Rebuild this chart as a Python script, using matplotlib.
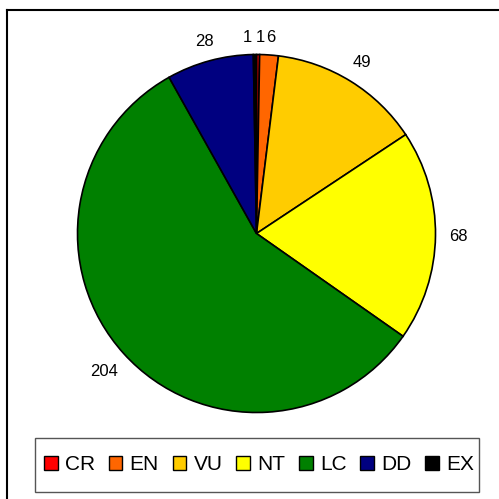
import numpy as np
import matplotlib
matplotlib.use("Agg")
import matplotlib.pyplot as plt
from matplotlib.patches import Patch, Rectangle
from matplotlib.lines import Line2D

categories = ["CR", "EN", "VU", "NT", "LC", "DD", "EX"]
values = [1, 6, 49, 68, 204, 28, 1]
colors = ["#FF0000", "#FF6600", "#FFCC00", "#FFFF00", "#008000", "#000080", "#000000"]

plt.rcParams['font.family'] = ['Liberation Sans', 'DejaVu Sans']

W = H = 499
fig = plt.figure(figsize=(W/100, H/100), dpi=100)

# outer border (left and top visible; right/bottom run off the image)
fig.lines.append(Line2D([7/W, 7/W], [0, 1 - 10/H], transform=fig.transFigure,
                        color="black", linewidth=1.5))
fig.lines.append(Line2D([7/W, 1], [1 - 10/H, 1 - 10/H], transform=fig.transFigure,
                        color="black", linewidth=1.5))

cx, cy, r = 256.5, 233.5, 179
ax = fig.add_axes([(cx - r)/W, 1 - (cy + r)/H, 2*r/W, 2*r/H])
wedges, _ = ax.pie(values, colors=colors, startangle=90, counterclock=False,
                   wedgeprops=dict(edgecolor="black", linewidth=1.2))
ax.set_aspect("equal")
ax.set_xlim(-1, 1)
ax.set_ylim(-1, 1)

# data labels placed just outside each wedge, offset by the text extent
fs = 12
px = 1.0 / r  # one pixel in data units
total = sum(values)
for w, v in zip(wedges, values):
    ang = np.deg2rad((w.theta1 + w.theta2) / 2)
    c, s = np.cos(ang), np.sin(ang)
    tw = len(str(v)) * 9.3 / 2
    th = 4
    d = 1.075 + (abs(c) * tw + abs(s) * th) * px
    x, y = d * c, d * s
    if v / total < 0.01:  # keep the tiny-slice labels from sitting on top of each other
        x += (np.sign(c) * 4.5 - 2.5) * px
    ax.text(x, y, str(v), ha="center", va="center", fontsize=fs)

# legend frame
fig.patches.append(Rectangle((35/W, 1 - 492/H), 444/W, 54/H, transform=fig.transFigure,
                             fill=False, edgecolor="#555555", linewidth=1.0))
handles = [Patch(facecolor=c, edgecolor="black", linewidth=1.0) for c in colors]
leg = fig.legend(handles, categories, loc="center", ncol=7,
                 bbox_to_anchor=(44/W, 1 - 485/H, 430/W, 40/H), mode="expand",
                 fontsize=15, frameon=False,
                 handlelength=0.65, handleheight=0.65, handletextpad=0.35,
                 columnspacing=0.4, borderpad=0.0, borderaxespad=0)

fig.savefig("out.png", dpi=100)
